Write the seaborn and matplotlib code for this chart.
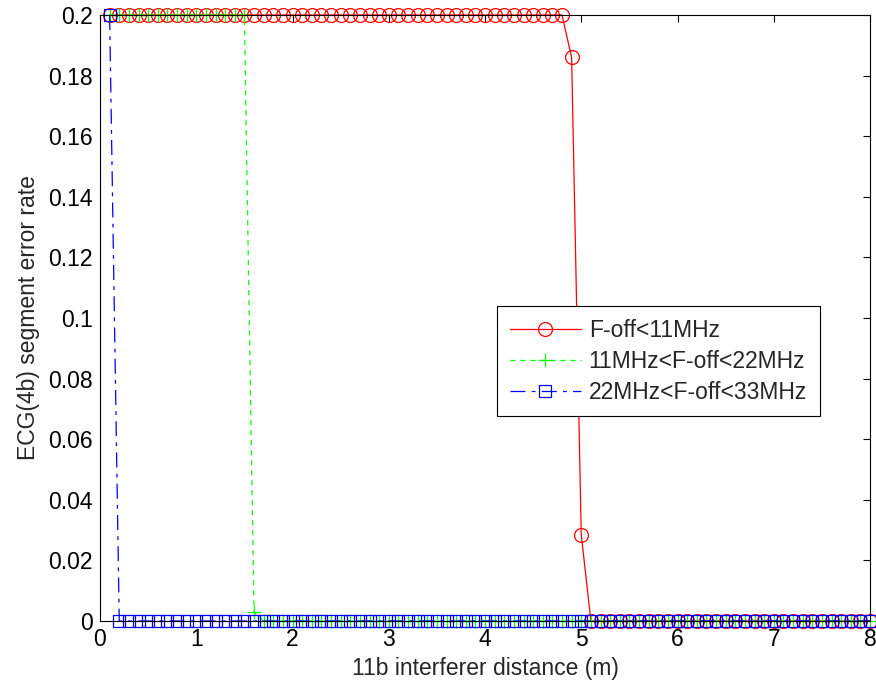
import numpy as np
import pandas as pd
import matplotlib
matplotlib.use("Agg")
import matplotlib.pyplot as plt
import seaborn as sns

# Data
x_dist = np.round(np.arange(1, 81) * 0.1, 1)  # 0.1 ... 8.0 m grid
ser_foff_11 = [0.2] * 48 + [0.186, 0.0285] + [0.0] * 30
ser_foff_22 = [0.2] * 15 + [0.003] + [0.0] * 64
ser_foff_33 = [0.2] * 1 + [0.0] * 79
labels = ["F-off<11MHz", "11MHz<F-off<22MHz", "22MHz<F-off<33MHz"]
xticks = [0, 1, 2, 3, 4, 5, 6, 7, 8]
yticks = [0, 0.02, 0.04, 0.06, 0.08, 0.1, 0.12, 0.14, 0.16, 0.18, 0.2]
ytick_labels = ["0", "0.02", "0.04", "0.06", "0.08", "0.1", "0.12", "0.14", "0.16", "0.18", "0.2"]

sns.set_style("white")
plt.rcParams["font.family"] = ["Liberation Sans", "DejaVu Sans"]

FS = 16.5
fig = plt.figure(figsize=(8.76, 6.83), dpi=100)
ax = fig.add_axes([100 / 876, 1 - 621 / 683, 770 / 876, 606 / 683])

sns.lineplot(x=x_dist, y=ser_foff_11, ax=ax, color="#ff0000", linestyle="-",
             marker="o", markersize=10, markerfacecolor="none",
             markeredgecolor="#ff0000", markeredgewidth=0.9, linewidth=0.9,
             label=labels[0], clip_on=False)
sns.lineplot(x=x_dist, y=ser_foff_22, ax=ax, color="#00ff00", linestyle=(0, (4, 4)),
             marker="+", markersize=10, markeredgewidth=0.9,
             markeredgecolor="#00ff00", linewidth=0.9, label=labels[1],
             clip_on=False, dashes=False)
sns.lineplot(x=x_dist, y=ser_foff_33, ax=ax, color="#0000ff", linestyle=(0, (12, 5, 3, 5)),
             marker="s", markersize=9, markerfacecolor="none",
             markeredgecolor="#0000ff", markeredgewidth=0.9, linewidth=0.9,
             label=labels[2], clip_on=False, dashes=False)

ax.set_xlim(0, 8)
ax.set_ylim(0, 0.2)
ax.set_xticks(xticks)
ax.set_xticklabels([str(t) for t in xticks])
ax.set_yticks(yticks)
ax.set_yticklabels(ytick_labels)
ax.tick_params(direction="in", length=5, width=0.8, top=True, right=True,
               labelsize=FS, colors="black", pad=5)
for s in ax.spines.values():
    s.set_visible(True)
    s.set_color("black")
    s.set_linewidth(0.8)
ax.set_xlabel("11b interferer distance (m)", fontsize=FS, labelpad=4)
ax.set_ylabel("ECG(4b) segment error rate", fontsize=FS, labelpad=6)

leg = ax.legend(loc="upper left", bbox_to_anchor=(397 / 770, 1 - (306 - 15) / 606),
                fontsize=FS, frameon=True, fancybox=False, edgecolor="black",
                framealpha=1, handlelength=3.1, handletextpad=0.35,
                borderpad=0.55, labelspacing=0.35, borderaxespad=0)
leg.get_frame().set_linewidth(0.8)

fig.savefig("out.png", dpi=100)
